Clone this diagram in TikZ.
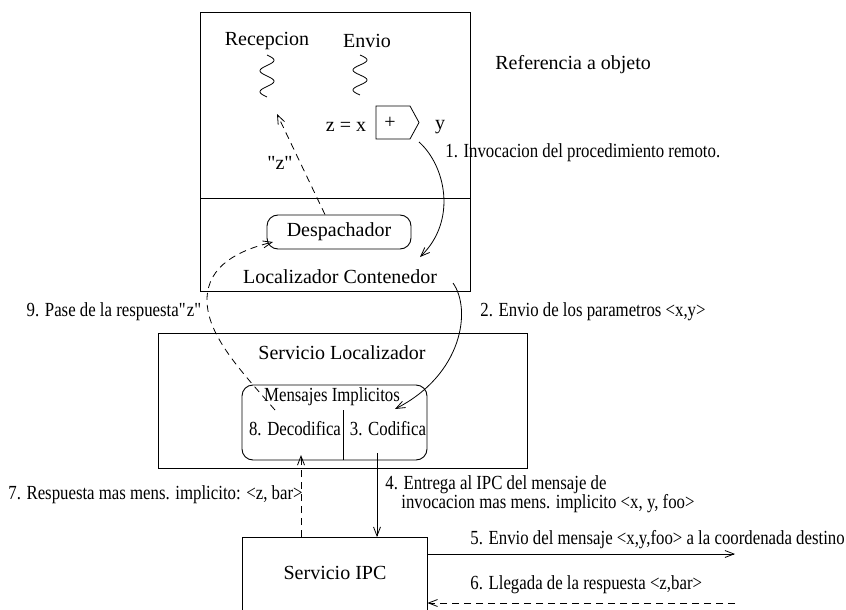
\documentclass[tikz,border=0pt]{standalone}
\usepackage{fontspec}
\setmainfont{Liberation Serif}
\newfontfamily\narrowserif[FakeStretch=0.84]{Liberation Serif}
\usetikzlibrary{arrows.meta}
\begin{document}
\begin{tikzpicture}[x=1pt,y=-1pt,
  line width=0.8pt,
  big/.style={font=\fontsize{20}{24}\selectfont, inner sep=0pt},
  lbl/.style={font=\narrowserif\fontsize{20}{19.5}\selectfont, inner sep=0pt},
  box/.style={draw, line width=0.9pt, inner sep=0pt},
  rbox/.style={box, rounded corners=11pt},
  arr/.style={-{Straight Barb[length=9pt,width=7pt]}},
  dsh/.style={dash pattern=on 7pt off 5pt}
]
\useasboundingbox (0,0) rectangle (846,610);
\clip (0,0) rectangle (846,610);

% object reference and container
\node[box, minimum width=270pt, minimum height=186pt] (refobj) at (335,105) {};
\node[box, minimum width=270pt, minimum height=93pt] (cont) at (335,244.5) {};
\node[big] (recep) at (267,41) {Recepcion};
\node[big] (envio) at (367,41) {Envio};
\node[big, anchor=west] (refl) at (495,65) {Referencia a objeto};
\draw plot[domain=0:1, samples=50, smooth] ({267+7*sin(720*\x)}, {55+42*\x});
\draw plot[domain=0:1, samples=50, smooth] ({360+7*sin(720*\x)}, {55+40*\x});
\node[big] (zx) at (346,127) {z = x};
\draw (376,106) -- (410,106) -- (419,122.5) -- (410,139) -- (376,139) -- cycle;
\node[big] (plus) at (390,122.5) {+};
\node[big] (yout) at (440,127) {y};
\node[big] (zq) at (280,163) {\textquotedbl z\textquotedbl};
\node[rbox, big, minimum width=144pt, minimum height=34pt] (desp) at (339,232) {Despachador};
\node[big] (contl) at (340,277) {Localizador Contenedor};

% locator service
\node[box, minimum width=369pt, minimum height=135pt] (servloc) at (342.5,400.5) {};
\node[big] (servl) at (342,353) {Servicio Localizador};
\node[rbox, minimum width=185pt, minimum height=75pt] (mens) at (334.5,422.5) {};
\node[lbl] (mensl) at (332,397) {Mensajes Implicitos};
\node[lbl] (decod) at (295,429) {8. Decodifica};
\node[lbl] (codif) at (388,429) {3. Codifica};
\coordinate (sep) at (343,410);
\draw (sep) -- (sep |- mens.south);

% IPC service
\node[box, minimum width=185pt, minimum height=110pt, anchor=north] (ipc) at (334.5,537) {};
\node[big] (ipcl) at (335,573) {Servicio IPC};

% connectors
\coordinate (a1s) at (419,142);
\coordinate (a1e) at (420,257);
\draw[arr] (a1s) .. controls (445,165) and (458,220) .. (a1e);
\coordinate (zend) at (277,114);
\draw[arr, dsh] ([xshift=-14pt]desp.north) -- (zend);
\coordinate (a9s) at (275,410);
\coordinate (a9e) at (273,242);
\draw[arr, dsh] (a9s) .. controls (240,370) and (207,335) .. (207,300)
  .. controls (207,265) and (240,250) .. (a9e);
\coordinate (a2s) at (453,283);
\coordinate (a2e) at (395,409);
\draw[arr] (a2s) .. controls (472,310) and (462,375) .. (a2e);
\coordinate (a4) at (377,453);
\draw[arr] (a4) -- (a4 |- ipc.north);
\coordinate (a7) at (301,455);
\draw[arr, dsh] (a7 |- ipc.north) -- (a7);
\coordinate (a5) at (735,554);
\draw[arr] (ipc.east |- a5) -- (a5);
\coordinate (a6) at (735,603);
\draw[arr, dsh] (a6) -- (ipc.east |- a6);

% labels
\node[lbl, anchor=west] at (445,153) {1. Invocacion del procedimiento remoto.};
\node[lbl, anchor=east] at (203,312) {9. Pase de la respuesta\textquotedbl z\textquotedbl};
\node[lbl, anchor=west] at (480,312) {2. Envio de los parametros <x,y>};
\node[lbl, anchor=west, align=left] at (385,494) {4. Entrega al IPC del mensaje de\\\hspace*{16pt}invocacion mas mens. implicito <x, y, foo>};
\node[lbl, anchor=east] at (303,495) {7. Respuesta mas mens. implicito: <z, bar>};
\node[lbl, anchor=west] at (470,540) {5. Envio del mensaje <x,y,foo> a la coordenada destino};
\node[lbl, anchor=west] at (470,585) {6. Llegada de la respuesta <z,bar>};
\end{tikzpicture}
\end{document}
